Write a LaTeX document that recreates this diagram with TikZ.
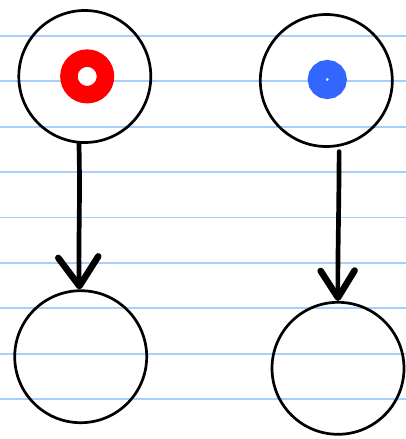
\documentclass[tikz,border=0pt]{standalone}
\usepackage{amsmath}
\usepackage{tikz}
\usetikzlibrary{arrows.meta}

\definecolor{ruleblue}{RGB}{168,206,250}
\definecolor{dotblue}{RGB}{51,102,255}

\begin{document}
\begin{tikzpicture}[x=1pt,y=-1pt,
  main node/.style={draw, circle, line width=2.7pt, minimum size=132pt, inner sep=0pt},
  ring node/.style={draw=#1, fill=white, circle, line width=17.5pt, minimum size=36.5pt, inner sep=0pt},
  dot node/.style={draw=#1, fill=white, circle, line width=18pt, minimum size=21pt, inner sep=0pt},
  ruled/.style={ruleblue, line width=1.8pt},
  pen/.style={line width=4.7pt, line cap=round}]
\useasboundingbox[fill=white] (0,0) rectangle (406,439);
% ruled paper
\foreach \k in {0,...,8}
  \draw[ruled] (0,{35.8+45.4*\k}) -- (406,{35.8+45.4*\k});
\node[main node] (1) at (84.8,76.5) {};
\node[main node] (2) at (326.3,80.5) {};
\node[main node] (3) at (80.7,356.7) {};
\node[main node] (4) at (338,368.3) {};
\node[ring node=red] (r) at (87.2,76.4) {};
\node[dot node=dotblue] (b) at (327.3,79.5) {};
\draw[pen, -{Straight Barb[length=29pt, width=40pt, line width=6.5pt, round]}]
  (1.-95) .. controls (80.5,200) and (78,250) .. (3.91);
\draw[pen, shorten <=5pt, -{Straight Barb[length=27pt, width=34pt, line width=6.5pt, round]}]
  (2.-79) .. controls (339,210) and (337.5,260) .. (4.90);
\end{tikzpicture}
\end{document}
